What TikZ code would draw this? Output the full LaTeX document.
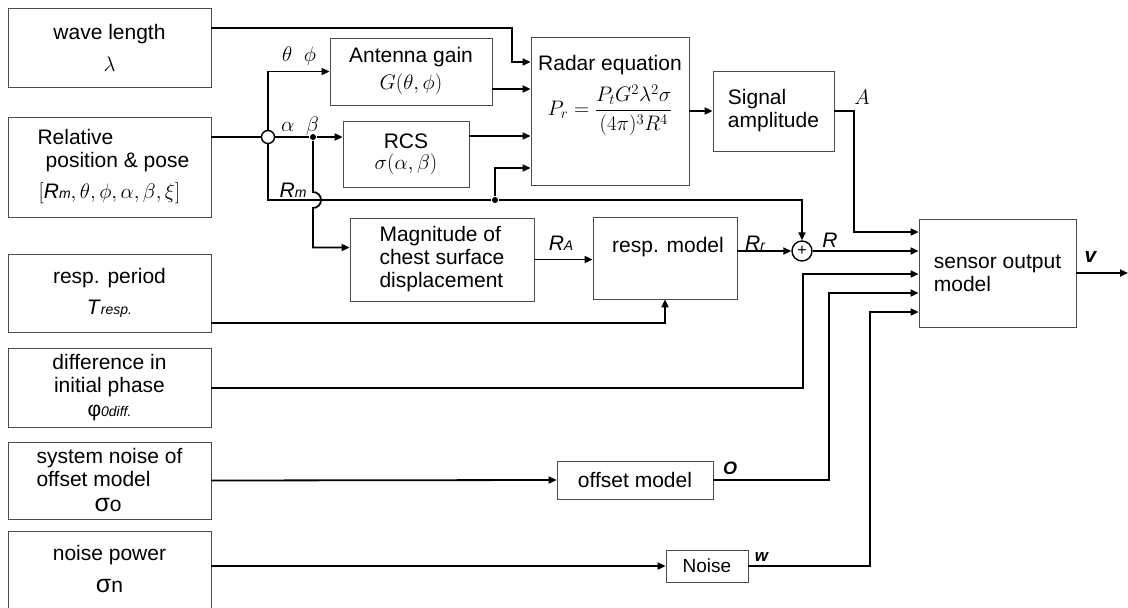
\documentclass[tikz,border=0pt]{standalone}
\usepackage{fix-cm}
\usepackage{amsmath}
\usepackage[no-math]{fontspec}
\setmainfont{Liberation Sans}
\usepackage{tikz}
\usetikzlibrary{arrows.meta,positioning}

\newcommand{\isub}[2]{\textit{#1}{\fontsize{14}{16}\selectfont\itshape #2}}

\begin{document}
\begin{tikzpicture}[x=1pt,y=-1pt,>={Triangle[length=8pt,width=7pt]},line width=1.8pt,
  blk/.style={draw=black!70,line width=0.8pt,inner sep=2pt,align=center,font=\fontsize{21}{23}\selectfont},
  txt/.style={inner sep=0pt,font=\fontsize{21}{23}\selectfont},
  joint/.style={circle,fill,inner sep=0pt,minimum size=6pt}]
\useasboundingbox (0,0) rectangle (1128,608);
% inputs on the left
\node[blk,minimum width=203pt,minimum height=79pt] (wave) at (109.5,47.5) {wave length\\[9pt]$\lambda$};
\node[blk,minimum width=203pt,minimum height=100pt] (pose) at (109.5,167) {Relative\hspace*{68pt}\\\hspace*{16pt}position \& pose\\[8pt]$[\mbox{\isub{R}{m}},\theta,\phi,\alpha,\beta,\xi]$};
\node[blk,minimum width=203pt,minimum height=78pt] (period) at (109.5,293) {resp. period\\[8pt]\isub{T}{resp.}};
\node[blk,minimum width=203pt,minimum height=79pt] (phase) at (109.5,387.5) {difference in\\initial phase\\[1pt]φ{\fontsize{14}{16}\selectfont\itshape 0diff.}};
\node[blk,minimum width=203pt,minimum height=77pt,align=left] (sysnoise) at (109.5,480.5) {system noise of\\offset model\\[2pt]\hspace*{58pt}{\fontsize{25}{25}\selectfont σ}o};
\node[blk,minimum width=203pt,minimum height=77pt] (npower) at (109.5,569.5) {noise power\\[9pt]{\fontsize{25}{25}\selectfont σ}n};
% model blocks
\node[blk,minimum width=162pt,minimum height=67pt] (gain) at (411,71.5) {Antenna gain\\[4pt]$G(\theta,\phi)$};
\node[blk,minimum width=126pt,minimum height=66pt] (rcs) at (406,154) {RCS\\[-2pt]$\sigma(\alpha,\beta)$};
\node[blk,minimum width=158pt,minimum height=148pt] (radar) at (610,111) {};
\node[txt,below=18pt of radar.north] (radart) {Radar equation};
\node[txt] (radarf) at (610,110) {$\displaystyle P_r=\frac{P_tG^2\lambda^2\sigma}{(4\pi)^3R^4}$};
\node[blk,minimum width=121pt,minimum height=80pt,align=left] (amp) at (773.5,111) {Signal\\amplitude};
\node[blk,minimum width=184pt,minimum height=83pt,align=left] (mag) at (442,259.5) {Magnitude of\\chest surface\\displacement};
\node[blk,minimum width=144pt,minimum height=82pt] (resp) at (665,258) {};
\node[txt] (respt) at (668,247) {resp. model};
\node[blk,minimum width=157pt,minimum height=108pt,align=left] (sensor) at (997.5,273) {sensor output\\model};
\node[blk,minimum width=156pt,minimum height=38pt] (offset) at (635,480) {offset model};
\node[blk,minimum width=82pt,minimum height=32pt,font=\fontsize{19}{21}\selectfont] (noise) at (707,566) {Noise};
% junctions
\node[circle,draw,line width=1.4pt,fill=white,minimum size=13pt,inner sep=0pt] (split) at (268,137) {};
\node[circle,draw,line width=1.4pt,minimum size=20pt,inner sep=0pt,font=\fontsize{16}{16}\selectfont] (sum) at (802,251) {+};
\node[joint] (fork) at (313,137) {};
\node[joint] (tap) at (495,200) {};
\coordinate (vout) at (1128,273);
% connectors
\draw[->] ([yshift=19.5pt]wave.east) -| (512,62) -- (radar.west |- 0,62);
\draw (pose.east |- split) -- (split);
\draw[->] (split) |- (gain.west);
\draw (split) -- (fork);
\draw[->] (fork) -- (rcs.west |- fork);
\draw (split) |- (tap);
\draw[->] (tap) -| (sum);
\draw[->] (tap) |- (radar.west |- 0,168);
\draw[->] (fork) -- (313,192) arc[start angle=90,end angle=-90,radius=8pt] |- ([yshift=12pt]mag.west);
\draw[->] (gain.east |- 0,89) -- (radar.west |- 0,89);
\draw[->] (rcs.east |- 0,136) -- (radar.west |- 0,136);
\draw[->] (radar) -- (amp);
\draw[->] (amp) -| (854,232) -- (sensor.west |- 0,232);
\draw[->] (mag) -- (resp.west |- mag);
\draw[->] (resp.east |- sum) -- (sum);
\draw[->] (sum) -- (sensor.west |- sum);
\draw[->] (period.east |- 0,323) -| (resp);
\draw[->] (phase.east |- 0,388) -| (803,274) -- (sensor.west |- 0,274);
\draw[->] (sysnoise.east) -- (offset.west);
\draw[->] (offset) -| (829,293) -- (sensor.west |- 0,293);
\draw[->] (npower.east |- noise) -- (noise);
\draw[->] (noise) -| (870,312) -- (sensor.west |- 0,312);
\draw[->] (sensor) -- (vout);
% signal labels
\node[txt] at (299,56) {$\theta\;\;\phi$};
\node[txt] at (300,126) {$\alpha\;\;\beta$};
\node[txt] at (293,190) {\isub{R}{m}};
\node[txt] at (862,97) {$A$};
\node[txt] at (561,243) {\isub{R}{A}};
\node[txt] at (755,243) {\isub{R}{r}};
\node[txt] at (830,240) {\textit{R}};
\node[txt,font=\fontsize{18}{18}\selectfont] at (730,468) {\textbf{\textit{O}}};
\node[txt,font=\fontsize{17}{17}\selectfont] at (762,557) {\textbf{\textit{w}}};
\node[txt] at (1091,257) {\textbf{\textit{v}}};
\end{tikzpicture}
\end{document}
